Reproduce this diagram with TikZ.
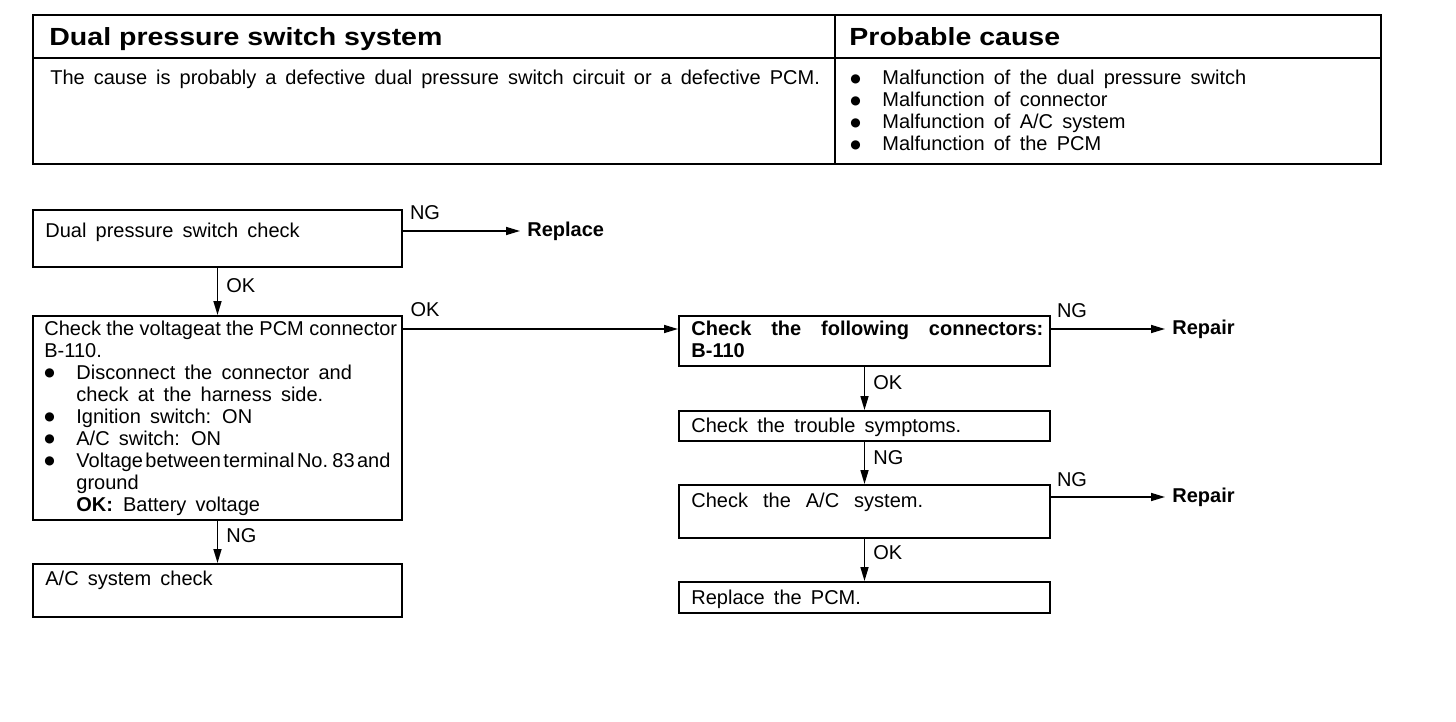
\documentclass[tikz,border=0pt]{standalone}
\usepackage{fontspec}
\setmainfont{Liberation Sans}
\newfontfamily\hdfont[FakeStretch=1.15]{Liberation Sans}
\newfontfamily\symfont{DejaVu Sans}
\usetikzlibrary{arrows.meta,fit}
\newcommand{\bul}[1][16pt]{\makebox[#1][l]{\raisebox{1.3pt}{\symfont\fontsize{6}{6}\selectfont ●}}}
\newcommand{\bulind}{\hspace*{16pt}}
\newcommand{\wsp}[1]{\spaceskip=#1 plus 1pt minus 1pt\relax}
\begin{document}
\begin{tikzpicture}[x=0.5pt,y=-0.5pt,
  every node/.style={font={\fontsize{10}{11}\selectfont\wsp{4.6pt}}, inner sep=0pt},
  hd/.style={font={\hdfont\bfseries\fontsize{12.4}{14}\selectfont\spaceskip=0pt\relax}},
  box/.style={draw, line width=1pt, inner sep=0pt},
  arr/.style={line width=0.8pt, -{Triangle[length=7pt,width=4pt]}},
  tbl/.style={line width=1.2pt},
  txt/.style={anchor=north west, align=left},
  tip/.style={anchor=west, inner xsep=3.5pt, font={\fontsize{10}{11}\selectfont\bfseries}}]
\useasboundingbox (0,0) rectangle (1456,722);
% ---------- top table ----------
\draw[tbl] (33,15) rectangle (1381,164);
\draw[tbl] (33,58) -- (1381,58);
\draw[tbl] (835,15) -- (835,164);
\node[hd, anchor=base west] (h1) at (49,46) {Dual pressure switch system};
\node[hd, anchor=base west] (h2) at (849,46) {Probable cause};
\node[txt, font={\fontsize{10}{11}\selectfont\wsp{4.5pt}}] (c1) at (50,70) {The cause is probably a defective dual pressure switch circuit or a defective PCM.};
\node[txt] (c2) at (850,70) {\bul[16pt]Malfunction of the dual pressure switch\\
\bul[16pt]Malfunction of connector\\
\bul[16pt]Malfunction of A/C system\\
\bul[16pt]Malfunction of the PCM};
% ---------- boxes ----------
\node[box, fit={(33,210) (402,267)}] (b1) {};
\node[box, fit={(33,316) (402,520)}] (b2) {};
\node[box, fit={(33,564) (402,617)}] (b7) {};
\node[box, fit={(679,316) (1050,366)}] (b3) {};
\node[box, fit={(679,411) (1050,441)}] (b4) {};
\node[box, fit={(679,485) (1050,538)}] (b5) {};
\node[box, fit={(679,582) (1050,613)}] (b6) {};
% ---------- box texts ----------
\node[txt] (t1) at (45,222.5) {Dual pressure switch check};
\node[txt] (t2) at (44,320.5) {{\wsp{2.7pt}Check the voltageat the PCM connector}\\
B-110.\\
\bul Disconnect the connector and\\
\bulind check at the harness side.\\
\bul Ignition switch: ON\\
\bul A/C switch: ON\\
\bul{\wsp{1.2pt}Voltage between terminal No. 83 and}\\
\bulind ground\\
\bulind\textbf{OK:}\hspace{5pt}Battery voltage};
\node[txt, font={\fontsize{10}{11}\selectfont\bfseries}] (t3) at (691,320.5) {\hbox to 176pt{Check\hfill the\hfill following\hfill connectors:}\\ B-110};
\node[txt] (t4) at (691,417.5) {Check the trouble symptoms.};
\node[txt] (t5) at (691,492.5) {Check\hspace{7.5pt}the\hspace{7.5pt}A/C\hspace{7.5pt}system.};
\node[txt] (t6) at (691,589.5) {Replace the PCM.};
\node[txt] (t7) at (45,570.5) {A/C system check};
% ---------- end points ----------
\node[tip] (rep) at (520,231) {Replace};
\node[tip] (rp1) at (1165,329) {Repair};
\node[tip] (rp2) at (1165,497) {Repair};
\coordinate (okrow) at (0,329);
% ---------- connectors ----------
\draw[arr] (b1.east |- rep.west) -- (rep.west);
\draw[arr] (b1.south) -- (b2.north);
\draw[arr] (b2.east |- okrow) -- (b3.west |- okrow);
\draw[arr] (b3.east |- rp1.west) -- (rp1.west);
\draw[arr] (b3.south) -- (b4.north);
\draw[arr] (b4.south) -- (b5.north);
\draw[arr] (b5.east |- rp2.west) -- (rp2.west);
\draw[arr] (b5.south) -- (b6.north);
\draw[arr] (b2.south) -- (b7.north);
% ---------- labels ----------
\node (l1) at (425,213) {NG};
\node[anchor=west] (l2) at (226,286) {OK};
\node (l3) at (425,310) {OK};
\node (l4) at (1072,311) {NG};
\node[anchor=west] (l5) at (873,383) {OK};
\node[anchor=west] (l6) at (873,458) {NG};
\node (l7) at (1072,480) {NG};
\node[anchor=west] (l8) at (873,553) {OK};
\node[anchor=west] (l9) at (226,536) {NG};
\end{tikzpicture}
\end{document}
